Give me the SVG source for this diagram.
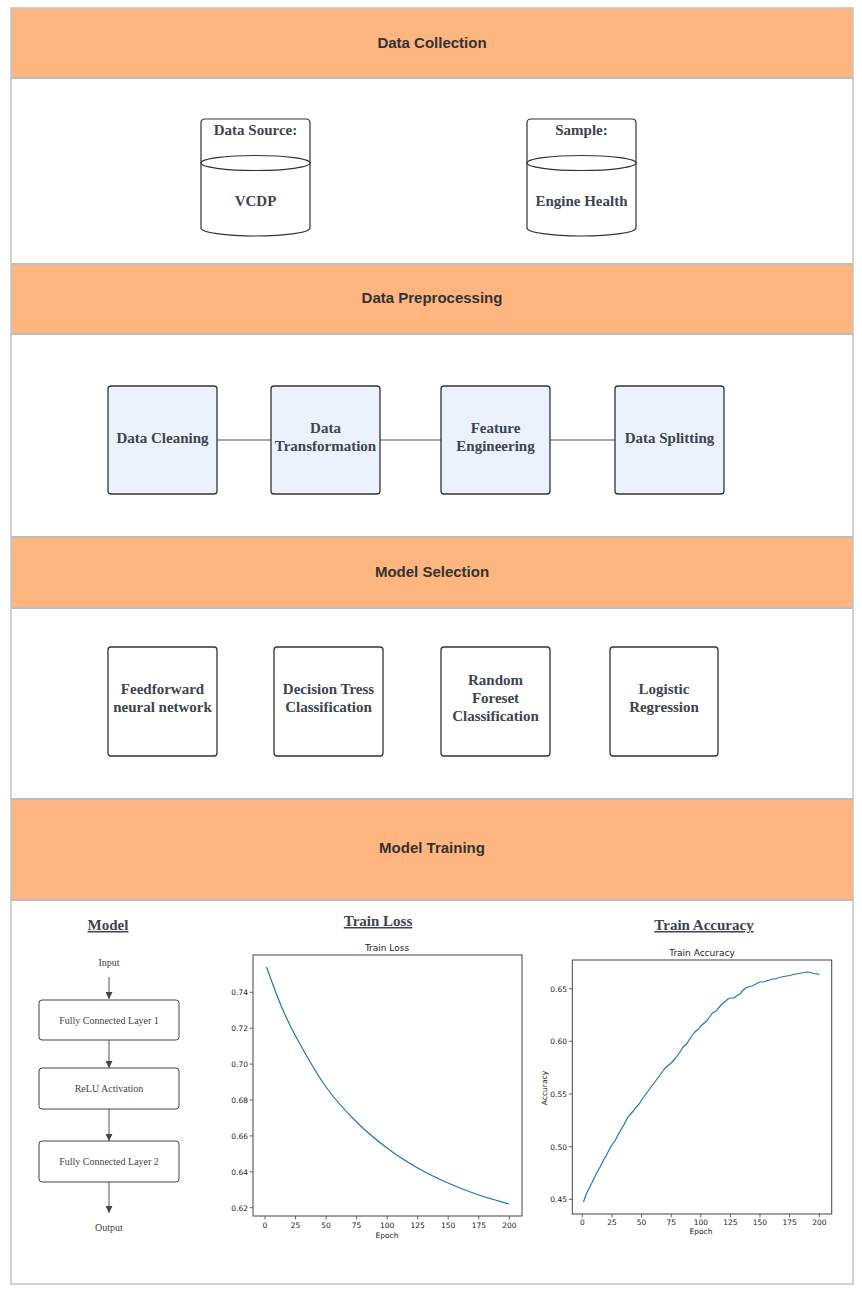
<svg xmlns="http://www.w3.org/2000/svg" width="862" height="1292" viewBox="0 0 862 1292">
<defs>
<style>
.hdr{fill:#FFB57F}
.band{fill:#ffffff}
.sep{stroke:#bdbdbd;stroke-width:2;fill:none}
.htxt{font-family:"Liberation Sans",Arial,sans-serif;font-weight:bold;font-size:15px;fill:#333333;text-anchor:middle;dominant-baseline:central}
.ntxt{font-family:"Liberation Serif","Times New Roman",serif;font-weight:bold;font-size:15px;fill:#3d4451;text-anchor:middle;dominant-baseline:central}
.stxt{font-family:"Liberation Serif","Times New Roman",serif;font-size:10px;fill:#444;text-anchor:middle;dominant-baseline:central}
.utxt{font-family:"Liberation Serif","Times New Roman",serif;font-weight:bold;font-size:15px;fill:#3d4451;text-anchor:middle;text-decoration:underline}
.box{fill:#EBF2FD;stroke:#333;stroke-width:1.3}
.wbox{fill:#ffffff;stroke:#333;stroke-width:1.3}
.cyl{fill:#ffffff;stroke:#333;stroke-width:1.2}
.lbox{fill:#ffffff;stroke:#444;stroke-width:1}
.conn{stroke:#555;stroke-width:1;fill:none}
.axis{fill:none;stroke:#444;stroke-width:1}
.tick{stroke:#444;stroke-width:0.8}
.tl{font-family:"DejaVu Sans",sans-serif;font-size:7.5px;fill:#222}
.ct{font-family:"DejaVu Sans",sans-serif;font-size:9px;fill:#222;text-anchor:middle}
.curve{fill:none;stroke:#1f77b4;stroke-width:1.2}
</style>
<marker id="arr" viewBox="0 0 10 10" refX="10" refY="5" markerWidth="7" markerHeight="7" orient="auto" markerUnits="userSpaceOnUse">
<path d="M0,0 L10,5 L0,10 z" fill="#444"/>
</marker>
</defs>
<rect x="0" y="0" width="862" height="1292" fill="#ffffff"/>

<g id="sections">
<rect class="hdr" x="11" y="8" width="842" height="70"/>
<rect class="band" x="11" y="78" width="842" height="186"/>
<rect class="hdr" x="11" y="264" width="842" height="70"/>
<rect class="band" x="11" y="334" width="842" height="203"/>
<rect class="hdr" x="11" y="537" width="842" height="71"/>
<rect class="band" x="11" y="608" width="842" height="191"/>
<rect class="hdr" x="11" y="799" width="842" height="101"/>
<rect class="band" x="11" y="900" width="842" height="384"/>
<rect x="11" y="8" width="842" height="1276" fill="none" stroke="#c4c4c4" stroke-width="1.5"/>
<line class="sep" x1="11" y1="78" x2="853" y2="78"/>
<line class="sep" x1="11" y1="264" x2="853" y2="264"/>
<line class="sep" x1="11" y1="334" x2="853" y2="334"/>
<line class="sep" x1="11" y1="537" x2="853" y2="537"/>
<line class="sep" x1="11" y1="608" x2="853" y2="608"/>
<line class="sep" x1="11" y1="799" x2="853" y2="799"/>
<line class="sep" x1="11" y1="900" x2="853" y2="900"/>
<text class="htxt" x="432" y="42">Data Collection</text>
<text class="htxt" x="432" y="297">Data Preprocessing</text>
<text class="htxt" x="432" y="571">Model Selection</text>
<text class="htxt" x="432" y="847">Model Training</text>
</g>

<g id="node-datasource">
<path class="cyl" d="M201,163 L201,123 Q201,119 205,119 L306,119 Q310,119 310,123 L310,163"/>
<path class="cyl" d="M201,163 L201,228 A54.5,8 0 0 0 310,228 L310,163"/>
<ellipse class="cyl" cx="255.5" cy="163" rx="54.5" ry="7.5"/>
<text class="ntxt" x="255.5" y="130">Data Source:</text>
<text class="ntxt" x="255.5" y="201">VCDP</text>
</g>
<g id="node-sample">
<path class="cyl" d="M527,163 L527,123 Q527,119 531,119 L632,119 Q636,119 636,123 L636,163"/>
<path class="cyl" d="M527,163 L527,228 A54.5,8 0 0 0 636,228 L636,163"/>
<ellipse class="cyl" cx="581.5" cy="163" rx="54.5" ry="7.5"/>
<text class="ntxt" x="581.5" y="130">Sample:</text>
<text class="ntxt" x="581.5" y="201">Engine Health</text>
</g>

<g id="connectors">
<line class="conn" x1="217" y1="440" x2="271" y2="440"/>
<line class="conn" x1="380" y1="440" x2="441" y2="440"/>
<line class="conn" x1="550" y1="440" x2="615" y2="440"/>
<line class="conn" x1="109" y1="977" x2="109" y2="999" marker-end="url(#arr)"/>
<line class="conn" x1="109" y1="1040" x2="109" y2="1068" marker-end="url(#arr)"/>
<line class="conn" x1="109" y1="1109" x2="109" y2="1141" marker-end="url(#arr)"/>
<line class="conn" x1="109" y1="1182" x2="109" y2="1213" marker-end="url(#arr)"/>
</g>

<g id="node-cleaning">
<rect class="box" x="108" y="386" width="109" height="108" rx="3"/>
<text class="ntxt" x="162.5" y="438">Data Cleaning</text>
</g>
<g id="node-transformation">
<rect class="box" x="271" y="386" width="109" height="108" rx="3"/>
<text class="ntxt" x="325.5" y="428">Data</text>
<text class="ntxt" x="325.5" y="446">Transformation</text>
</g>
<g id="node-feature">
<rect class="box" x="441" y="386" width="109" height="108" rx="3"/>
<text class="ntxt" x="495.5" y="428">Feature</text>
<text class="ntxt" x="495.5" y="446">Engineering</text>
</g>
<g id="node-splitting">
<rect class="box" x="615" y="386" width="109" height="108" rx="3"/>
<text class="ntxt" x="669.5" y="438">Data Splitting</text>
</g>

<g id="node-ffnn">
<rect class="wbox" x="108" y="647" width="109" height="109" rx="3"/>
<text class="ntxt" x="162.5" y="689">Feedforward</text>
<text class="ntxt" x="162.5" y="707">neural network</text>
</g>
<g id="node-dtree">
<rect class="wbox" x="274" y="647" width="109" height="109" rx="3"/>
<text class="ntxt" x="328.5" y="689">Decision Tress</text>
<text class="ntxt" x="328.5" y="707">Classification</text>
</g>
<g id="node-rforest">
<rect class="wbox" x="441" y="647" width="109" height="109" rx="3"/>
<text class="ntxt" x="495.5" y="680">Random</text>
<text class="ntxt" x="495.5" y="698">Foreset</text>
<text class="ntxt" x="495.5" y="716">Classification</text>
</g>
<g id="node-logreg">
<rect class="wbox" x="610" y="647" width="108" height="109" rx="3"/>
<text class="ntxt" x="664" y="689">Logistic</text>
<text class="ntxt" x="664" y="707">Regression</text>
</g>

<g id="model-diagram">
<text class="utxt" x="108" y="930">Model</text>
<text class="stxt" x="109" y="962">Input</text>
<text class="stxt" x="109" y="1227">Output</text>
</g>
<g id="node-fc1">
<rect class="lbox" x="39" y="1000" width="140" height="40" rx="3"/>
<text class="stxt" x="109" y="1020">Fully Connected Layer 1</text>
</g>
<g id="node-relu">
<rect class="lbox" x="39" y="1068" width="140" height="41" rx="3"/>
<text class="stxt" x="109" y="1088.5">ReLU Activation</text>
</g>
<g id="node-fc2">
<rect class="lbox" x="39" y="1141" width="140" height="41" rx="3"/>
<text class="stxt" x="109" y="1161.5">Fully Connected Layer 2</text>
</g>

<g id="chart-loss">
<text class="utxt" x="378" y="926">Train Loss</text>
<text class="ct" x="387" y="951">Train Loss</text>
<rect class="axis" x="253" y="955" width="269" height="261"/>
<g class="tick">
<line x1="249.5" y1="992.3" x2="253" y2="992.3"/>
<line x1="249.5" y1="1028.2" x2="253" y2="1028.2"/>
<line x1="249.5" y1="1064.1" x2="253" y2="1064.1"/>
<line x1="249.5" y1="1100" x2="253" y2="1100"/>
<line x1="249.5" y1="1135.9" x2="253" y2="1135.9"/>
<line x1="249.5" y1="1171.8" x2="253" y2="1171.8"/>
<line x1="249.5" y1="1207.7" x2="253" y2="1207.7"/>
<line x1="265" y1="1216" x2="265" y2="1219.5"/>
<line x1="295.5" y1="1216" x2="295.5" y2="1219.5"/>
<line x1="326.1" y1="1216" x2="326.1" y2="1219.5"/>
<line x1="356.6" y1="1216" x2="356.6" y2="1219.5"/>
<line x1="387.2" y1="1216" x2="387.2" y2="1219.5"/>
<line x1="417.7" y1="1216" x2="417.7" y2="1219.5"/>
<line x1="448.2" y1="1216" x2="448.2" y2="1219.5"/>
<line x1="478.8" y1="1216" x2="478.8" y2="1219.5"/>
<line x1="509.3" y1="1216" x2="509.3" y2="1219.5"/>
</g>
<g class="tl" text-anchor="end">
<text x="248" y="995">0.74</text>
<text x="248" y="1031">0.72</text>
<text x="248" y="1067">0.70</text>
<text x="248" y="1103">0.68</text>
<text x="248" y="1138.5">0.66</text>
<text x="248" y="1174.5">0.64</text>
<text x="248" y="1210.5">0.62</text>
</g>
<g class="tl" text-anchor="middle">
<text x="265" y="1228">0</text>
<text x="295.5" y="1228">25</text>
<text x="326.1" y="1228">50</text>
<text x="356.6" y="1228">75</text>
<text x="387.2" y="1228">100</text>
<text x="417.7" y="1228">125</text>
<text x="448.2" y="1228">150</text>
<text x="478.8" y="1228">175</text>
<text x="509.3" y="1228">200</text>
<text x="387" y="1238">Epoch</text>
</g>
<path class="curve" d="M266.5,967 C268.75,973 275.17,991.5 280,1003 C284.83,1014.5 287.83,1022 295.5,1036 C303.17,1050 315.82,1072.67 326,1087 C336.18,1101.33 346.43,1111.83 356.6,1122 C366.77,1132.17 376.82,1140.33 387,1148 C397.18,1155.67 407.53,1162.17 417.7,1168 C427.87,1173.83 437.82,1178.5 448,1183 C458.18,1187.5 468.63,1191.5 478.8,1195 C488.97,1198.5 503.97,1202.5 509,1204"/>
</g>

<g id="chart-accuracy">
<text class="utxt" x="704" y="930">Train Accuracy</text>
<text class="ct" x="702" y="956">Train Accuracy</text>
<rect class="axis" x="572.3" y="960" width="259.4" height="254"/>
<g class="tick">
<line x1="568.8" y1="988.7" x2="572.3" y2="988.7"/>
<line x1="568.8" y1="1041.3" x2="572.3" y2="1041.3"/>
<line x1="568.8" y1="1094" x2="572.3" y2="1094"/>
<line x1="568.8" y1="1146.7" x2="572.3" y2="1146.7"/>
<line x1="568.8" y1="1199.3" x2="572.3" y2="1199.3"/>
<line x1="582.3" y1="1214" x2="582.3" y2="1217.5"/>
<line x1="611.9" y1="1214" x2="611.9" y2="1217.5"/>
<line x1="641.5" y1="1214" x2="641.5" y2="1217.5"/>
<line x1="671.2" y1="1214" x2="671.2" y2="1217.5"/>
<line x1="700.8" y1="1214" x2="700.8" y2="1217.5"/>
<line x1="730.4" y1="1214" x2="730.4" y2="1217.5"/>
<line x1="760" y1="1214" x2="760" y2="1217.5"/>
<line x1="789.6" y1="1214" x2="789.6" y2="1217.5"/>
<line x1="819.3" y1="1214" x2="819.3" y2="1217.5"/>
</g>
<g class="tl" text-anchor="end">
<text x="567" y="991.5">0.65</text>
<text x="567" y="1044">0.60</text>
<text x="567" y="1097">0.55</text>
<text x="567" y="1149.5">0.50</text>
<text x="567" y="1202">0.45</text>
</g>
<g class="tl" text-anchor="middle">
<text x="582.3" y="1225">0</text>
<text x="611.9" y="1225">25</text>
<text x="641.5" y="1225">50</text>
<text x="671.2" y="1225">75</text>
<text x="700.8" y="1225">100</text>
<text x="730.4" y="1225">125</text>
<text x="760" y="1225">150</text>
<text x="789.6" y="1225">175</text>
<text x="819.3" y="1225">200</text>
<text x="701" y="1234">Epoch</text>
<text x="0" y="0" transform="translate(547,1088) rotate(-90)">Accuracy</text>
</g>
<polyline class="curve" points="583.5,1202 585.9,1195 588.2,1190 591.8,1183 594.2,1178 597.7,1171 600.1,1167 603.6,1160 606,1156 609.6,1149 611.9,1145 615.5,1140 617.9,1135 621.4,1129 623.8,1125 627.3,1118 629.7,1115 633.3,1111 635.6,1108 639.2,1104 641.6,1100 645.1,1095 647.5,1092 651,1087 653.4,1084 657,1079 659.3,1076 662.9,1071 665.3,1068 668.8,1065 671.2,1063 674.7,1059 677.1,1056 680.7,1051 683,1047 686.6,1044 689,1040 692.5,1035 694.9,1032 698.4,1029 700.8,1026 704.3,1023 706.7,1021 710.3,1016 712.6,1013 716.2,1011 718.5,1008 722.1,1004 724.5,1002 728,999 730.4,998 734,998 736.4,996 739.9,994 742.3,991 745.8,988 748.2,987 751.8,986 754.1,985 757.7,983 760,982 763.6,982 766,981 769.5,980 771.9,979 775.5,979 777.8,978 781.4,977 783.7,976.5 789.7,975.5 795.6,974 801.5,973 807.5,972 811,972.5 813.4,973.5 816.9,973.8 819.3,974.5"/>
</g>
</svg>
